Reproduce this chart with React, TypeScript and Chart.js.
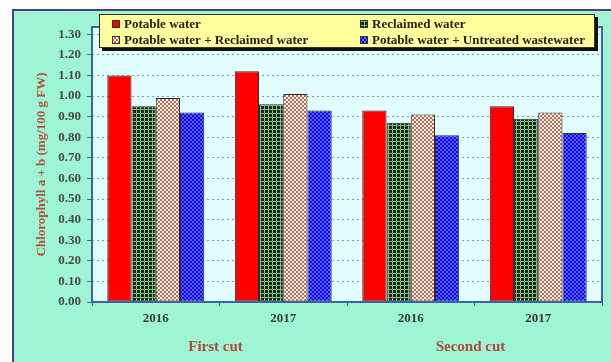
import React, { useEffect, useRef } from 'react';
import { Chart, registerables } from 'chart.js';
Chart.register(...registerables);

const categories = ['2016', '2017', '2016', '2017'];
const cutLabels = ['First cut', 'Second cut'];
const seriesNames = [
  'Potable water',
  'Reclaimed water',
  'Potable water + Reclaimed water',
  'Potable water + Untreated wastewater',
];
const potable = [1.1, 1.12, 0.93, 0.95];
const reclaimed = [0.95, 0.96, 0.87, 0.89];
const potableReclaimed = [0.99, 1.01, 0.91, 0.92];
const potableUntreated = [0.92, 0.93, 0.81, 0.82];
const yTickValues = [0, 0.1, 0.2, 0.3, 0.4, 0.5, 0.6, 0.7, 0.8, 0.9, 1.0, 1.1, 1.2, 1.3];
const yTitle = 'Chlorophyll a + b (mg/100 g FW)';

const FONT = '"Liberation Serif", "Times New Roman", serif';
const W = 599;
const H = 353;

function makePattern(size: number, draw: (c: CanvasRenderingContext2D) => void, fallback: string) {
  const cv = document.createElement('canvas');
  cv.width = size;
  cv.height = size;
  const c = cv.getContext('2d');
  if (!c) return fallback;
  draw(c);
  const ctx2 = document.createElement('canvas').getContext('2d');
  return (ctx2 && ctx2.createPattern(cv, 'repeat')) || fallback;
}

const bgPlugin = {
  id: 'bgPlugin',
  beforeDraw(chart: any) {
    const { ctx, chartArea } = chart;
    ctx.save();
    ctx.fillStyle = '#9EF5D3';
    ctx.fillRect(0, 0, W, H);
    ctx.fillStyle = '#4B3F86';
    ctx.fillRect(0, 0, W, 2);
    ctx.fillRect(0, 0, 2, H);
    ctx.fillStyle = '#E2FDFD';
    ctx.fillRect(chartArea.left, chartArea.top, chartArea.right - chartArea.left, chartArea.bottom - chartArea.top);
    ctx.restore();
  },
  afterDatasetsDraw(chart: any) {
    const { ctx, chartArea } = chart;
    ctx.save();
    ctx.strokeStyle = '#3D62A8';
    ctx.lineWidth = 2;
    ctx.strokeRect(chartArea.left, chartArea.top, chartArea.right - chartArea.left, chartArea.bottom - chartArea.top);
    ctx.restore();
  },
};

const legendPlugin = {
  id: 'boxLegend',
  afterDraw(chart: any) {
    const ctx = chart.ctx;
    const bx = 87, by = 5, bw = 496, bh = 34;
    ctx.save();
    ctx.fillStyle = '#9EF5D3';
    ctx.fillRect(2, H - 6, W - 2, 6);
    ctx.fillStyle = '#111';
    ctx.fillRect(bx + 3, by + 3, bw, bh);
    ctx.fillStyle = '#FFFF9C';
    ctx.fillRect(bx, by, bw, bh);
    ctx.strokeStyle = '#333';
    ctx.lineWidth = 1;
    ctx.strokeRect(bx + 0.5, by + 0.5, bw - 1, bh - 1);
    ctx.font = 'bold 13px ' + FONT;
    ctx.textBaseline = 'middle';
    ctx.textAlign = 'left';
    chart.data.datasets.forEach((ds: any, i: number) => {
      const col = i % 2;
      const row = Math.floor(i / 2);
      const x = bx + 13 + col * 248;
      const y = by + 10 + row * 16;
      ctx.fillStyle = ds.backgroundColor;
      ctx.fillRect(x, y - 4, 8, 8);
      ctx.strokeStyle = '#333';
      ctx.strokeRect(x + 0.5, y - 3.5, 7, 7);
      ctx.fillStyle = '#222';
      ctx.fillText(ds.label, x + 12, y + 1);
    });
    ctx.restore();
  },
};

export default function App() {
  const ref = useRef<HTMLCanvasElement | null>(null);
  useEffect(() => {
    if (!ref.current) return;
    const green = makePattern(4, (c) => {
      c.fillStyle = '#0F330F';
      c.fillRect(0, 0, 4, 4);
      c.fillStyle = '#8DB08D';
      c.fillRect(0, 0, 4, 1);
      c.fillRect(0, 0, 1, 4);
    }, '#1a4a1a');
    const checker = makePattern(4, (c) => {
      c.fillStyle = '#BE6A52';
      c.fillRect(0, 0, 4, 4);
      c.fillStyle = '#FFF2EA';
      c.fillRect(0, 0, 2, 2);
      c.fillRect(2, 2, 2, 2);
    }, '#e0a090');
    const blue = makePattern(4, (c) => {
      c.fillStyle = '#0A0AF5';
      c.fillRect(0, 0, 4, 4);
      c.fillStyle = '#5C5CFF';
      c.fillRect(0, 0, 2, 2);
      c.fillRect(2, 2, 2, 2);
    }, '#2020ff');
    const fills = ['#FF0000', green, checker, blue];
    const values = [potable, reclaimed, potableReclaimed, potableUntreated];

    const chart = new Chart(ref.current, {
      type: 'bar',
      data: {
        labels: categories,
        datasets: seriesNames.map((name, i) => ({
          label: name,
          data: values[i],
          backgroundColor: fills[i] as any,
          borderColor: '#2a2a2a',
          borderWidth: 1,
          borderSkipped: false,
          categoryPercentage: 0.76,
          barPercentage: 1.0,
        })),
      },
      options: {
        animation: false,
        responsive: false,
        layout: { padding: { top: 18, right: 9, left: 0, bottom: 0 } },
        plugins: { legend: { display: false }, tooltip: { enabled: false } },
        scales: {
          x: {
            type: 'category',
            position: 'bottom',
            offset: true,
            grid: { display: true, drawOnChartArea: false, offset: true, tickLength: 4, color: '#3D62A8' },
            border: { display: false },
            ticks: { color: '#3a3a3a', font: { family: FONT, size: 13, weight: 'bold' }, padding: 5 },
            afterFit: (s: any) => { s.height = 30; },
          },
          x2: {
            type: 'category',
            position: 'bottom',
            labels: cutLabels,
            offset: true,
            grid: { display: false, drawTicks: false },
            border: { display: false },
            ticks: { color: '#B2473A', font: { family: FONT, size: 15, weight: 'bold' }, padding: 6, labelOffset: -4 },
            afterFit: (s: any) => { s.height = 30; },
          },
          y: {
            min: yTickValues[0],
            max: 1.335,
            afterBuildTicks: (s: any) => { s.ticks = yTickValues.map((v) => ({ value: v })); },
            ticks: {
              stepSize: 0.1,
              includeBounds: false,
              color: '#4a4a4a',
              font: { family: FONT, size: 13, weight: 'bold' },
              padding: 6,
              callback: (v: any) => Number(v).toFixed(2),
            },
            grid: { color: '#7F9CC8', lineWidth: 1, tickLength: 5, tickColor: '#3D62A8', tickBorderDash: [] },
            border: { display: false, dash: [2, 3] },
            title: {
              display: true,
              text: yTitle,
              color: '#B5503F',
              font: { family: FONT, size: 13, weight: 'bold' },
              padding: { top: 22, bottom: 4 },
            },
            afterFit: (s: any) => { s.width = 80; },
          },
        },
      },
      plugins: [bgPlugin, legendPlugin],
    });
    return () => chart.destroy();
  }, []);
  return (
    <div style={{ position: 'absolute', left: 12, top: 9, width: W, height: H }}>
      <canvas ref={ref} width={W} height={H} style={{ display: 'block' }} />
    </div>
  );
}
